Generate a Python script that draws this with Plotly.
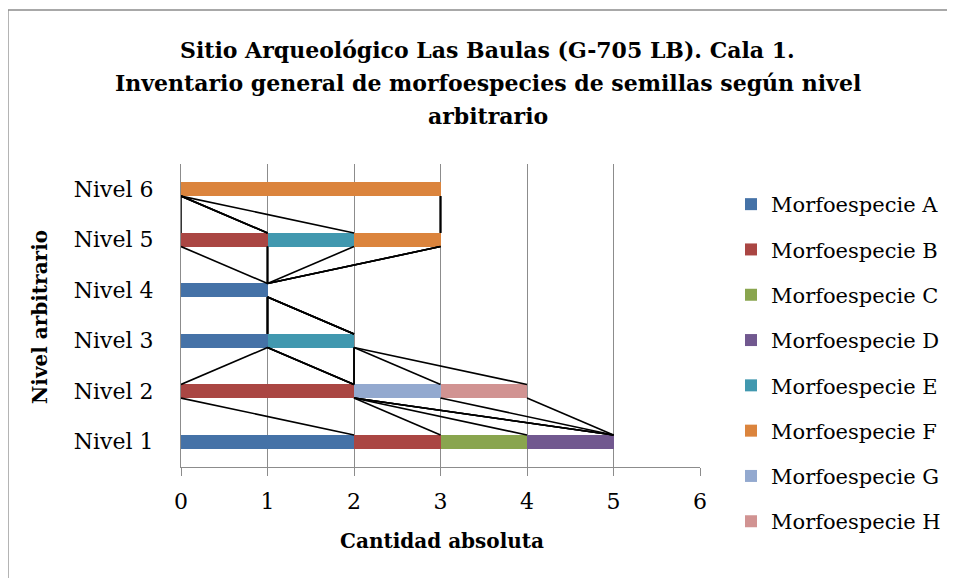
import plotly.graph_objects as go

levels = ["Nivel 1", "Nivel 2", "Nivel 3", "Nivel 4", "Nivel 5", "Nivel 6"]
species = ["Morfoespecie A", "Morfoespecie B", "Morfoespecie C", "Morfoespecie D",
           "Morfoespecie E", "Morfoespecie F", "Morfoespecie G", "Morfoespecie H"]

sp_a = [2, 0, 1, 1, 0, 0]
sp_b = [1, 2, 0, 0, 1, 0]
sp_c = [1, 0, 0, 0, 0, 0]
sp_d = [1, 0, 0, 0, 0, 0]
sp_e = [0, 0, 1, 0, 1, 0]
sp_f = [0, 0, 0, 0, 1, 3]
sp_g = [0, 1, 0, 0, 0, 0]
sp_h = [0, 1, 0, 0, 0, 0]

title_lines = ["Sitio Arqueológico Las Baulas (G-705 LB). Cala 1.",
               "Inventario general de morfoespecies de semillas según nivel",
               "arbitrario"]

colors = ["#4572A7", "#AA4643", "#89A54E", "#71588F",
          "#4198AF", "#DB843D", "#93A9CF", "#D19392"]

series = [sp_a, sp_b, sp_c, sp_d, sp_e, sp_f, sp_g, sp_h]
ypos = list(range(len(levels)))
bar_w = 0.27

FONT = "DejaVu Serif"

fig = go.Figure()

# stacked bars
for name, vals, col in zip(species, series, colors):
    fig.add_trace(go.Bar(
        y=ypos, x=vals, name=name, orientation="h",
        width=bar_w, marker=dict(color=col, line=dict(width=0)),
        legendgroup=name,
    ))

# series lines (Excel style): join the end of each stacked segment between levels
cum = [0] * len(levels)
lx, ly = [], []
for vals in series:
    cum = [c + v for c, v in zip(cum, vals)]
    for i in range(len(levels) - 1):
        lx += [cum[i], cum[i + 1], None]
        ly += [ypos[i] + bar_w / 2, ypos[i + 1] - bar_w / 2, None]

fig.add_trace(go.Scatter(
    x=lx, y=ly, mode="lines", line=dict(color="black", width=1.6),
    showlegend=False, hoverinfo="skip",
))

# page has an 8px body margin, so the figure is shifted by that much
OFF = 8
W, H = 955 - OFF, 578 - OFF
X0, X1, Y0, Y1 = 181, 700, 164, 467  # plot area in page pixels
L, R, T, B = X0 - OFF, W - (X1 - OFF), Y0 - OFF, H - (Y1 - OFF)
pw, ph = X1 - X0, Y1 - Y0

def px(x):
    return (x - X0) / pw

def py(y):
    return (Y1 - y) / ph

annotations = [
    dict(text=f"<b>{line}</b>", xref="paper", yref="paper", x=px(488), y=py(yc),
         xanchor="center", yanchor="middle", showarrow=False, font=dict(size=22))
    for line, yc in zip(title_lines, [50, 83, 116])
]
annotations += [
    dict(text="<b>Cantidad absoluta</b>", xref="paper", yref="paper",
         x=px(442), y=py(541), xanchor="center", yanchor="middle",
         showarrow=False, font=dict(size=20)),
    dict(text="<b>Nivel arbitrario</b>", xref="paper", yref="paper",
         x=px(40), y=py(317), xanchor="center", yanchor="middle",
         showarrow=False, font=dict(size=20), textangle=-90),
]

fig.update_layout(
    width=W, height=H,
    margin=dict(l=L, r=R, t=T, b=B, autoexpand=False),
    barmode="stack",
    plot_bgcolor="white", paper_bgcolor="white",
    font=dict(family=FONT, size=22, color="black"),
    xaxis=dict(
        range=[0, 6], dtick=1, showgrid=True, gridcolor="#8c8c8c", gridwidth=1.3,
        showline=True, linecolor="#8c8c8c", linewidth=1.3,
        ticks="outside", ticklen=8, tickcolor="#8c8c8c", tickwidth=1.3,
        ticklabelstandoff=6, zeroline=False, automargin=False,
    ),
    yaxis=dict(
        range=[-0.5, 5.5], tickvals=ypos, ticktext=levels,
        showgrid=False, zeroline=False, automargin=False,
        showline=True, linecolor="#8c8c8c", linewidth=1.3,
        ticks="", ticklabelstandoff=22,
    ),
    legend=dict(
        x=px(731), y=py(184), xanchor="left", yanchor="top",
        traceorder="grouped", tracegroupgap=15, maxheight=420,
        font=dict(size=21), itemwidth=30, bgcolor="rgba(0,0,0,0)",
    ),
    annotations=annotations,
    shapes=[dict(
        type="rect", xref="paper", yref="paper",
        x0=px(8), x1=px(970), y0=py(600), y1=py(10),
        line=dict(color="#8c8c8c", width=1.3), fillcolor="rgba(0,0,0,0)", layer="below",
    )],
)

fig.write_html("out.html")
